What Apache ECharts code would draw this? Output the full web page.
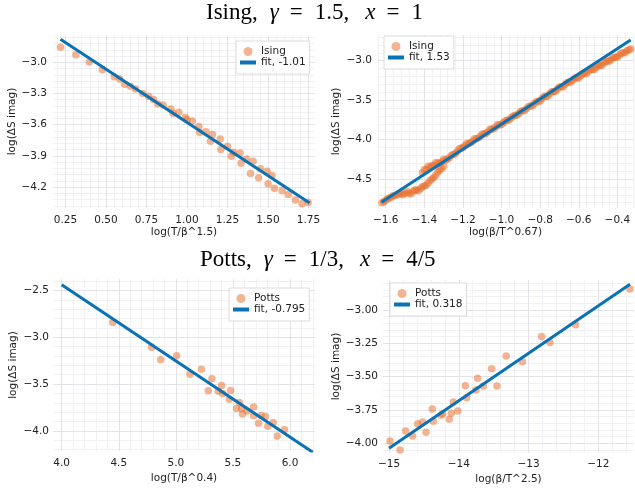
<!DOCTYPE html>
<html><head><meta charset="utf-8">
<script src="https://cdn.jsdelivr.net/npm/echarts@6/dist/echarts.min.js"></script>
<style>html,body{margin:0;padding:0;background:#fff}#c{width:635px;height:488px}</style>
</head><body><div id="c"></div>
<script>
// ---- Panel 1: Ising, log(T/β^1.5) ----
const isingTX = [0.220,0.314,0.397,0.478,0.551,0.585,0.615,0.650,0.682,0.727,0.763,0.793,0.820,0.853,0.900,0.914,0.950,0.990,1.000,1.033,1.073,1.078,1.117,1.145,1.157,1.205,1.209,1.250,1.274,1.287,1.327,1.333,1.368,1.392,1.408,1.442,1.452,1.494,1.500,1.525,1.539,1.587,1.625,1.669,1.710,1.748];
const isingTY = [-2.856,-2.928,-2.998,-3.072,-3.140,-3.160,-3.210,-3.230,-3.257,-3.300,-3.327,-3.358,-3.402,-3.410,-3.450,-3.490,-3.480,-3.530,-3.550,-3.565,-3.618,-3.675,-3.667,-3.758,-3.695,-3.738,-3.838,-3.810,-3.902,-3.865,-3.871,-3.970,-3.930,-4.069,-3.950,-4.109,-4.022,-4.047,-4.166,-4.087,-4.210,-4.234,-4.270,-4.322,-4.358,-4.348];
const fitTX = [0.219, 1.757];
const fitTY = [-2.779, -4.352];

// ---- Panel 2: Ising, log(β/T^0.67) (dense band) ----
const isingBX = [-1.620,-1.600,-1.580,-1.560,-1.540,-1.520,-1.500,-1.480,-1.460,-1.440,-1.420,-1.400,-1.380,-1.360,-1.340,-1.320,-1.300,
  -1.410,-1.390,-1.370,-1.350,-1.330,-1.310,-1.290,-1.270,-1.250,-1.230,-1.210,-1.190,-1.170,-1.150,-1.130,-1.110,-1.090,-1.070,-1.050,-1.030,-1.010,-0.990,-0.970,-0.950,-0.930,-0.910,-0.890,-0.870,-0.850,-0.830,-0.810,-0.790,-0.770,-0.750,-0.730,-0.710,-0.690,-0.670,-0.650,-0.630,-0.610,-0.590,-0.570,-0.550,-0.530,-0.510,-0.490,-0.470,-0.450,-0.430,-0.410,-0.390,-0.370,-0.350,-0.330,
  -1.610,-1.590,-1.570,-1.550,-1.530,-1.510,-1.490,-1.470,-1.450,-1.430,-1.410,-1.390,-1.370,-1.350,-1.330,-1.310,
  -1.400,-1.380,-1.360,-1.340,-1.320,-1.300,-1.280,-1.260,-1.240,-1.220,-1.200,-1.180,-1.160,-1.140,-1.120,-1.100,-1.080,-1.060,-1.040,-1.020,-1.000,-0.980,-0.960,-0.940,-0.920,-0.900,-0.880,-0.860,-0.840,-0.820,-0.800,-0.780,-0.760,-0.740,-0.720,-0.700,-0.680,-0.660,-0.640,-0.620,-0.600,-0.580,-0.560,-0.540,-0.520,-0.500,-0.480,-0.460,-0.440,-0.420,-0.400,-0.380,-0.360,-0.340];
const isingBY = [-4.80,-4.77,-4.74,-4.71,-4.70,-4.69,-4.68,-4.68,-4.66,-4.64,-4.62,-4.59,-4.55,-4.50,-4.45,-4.39,-4.34,
  -4.42,-4.38,-4.35,-4.33,-4.30,-4.28,-4.26,-4.23,-4.19,-4.15,-4.11,-4.08,-4.05,-4.02,-3.99,-3.96,-3.93,-3.90,-3.87,-3.84,-3.815,-3.785,-3.755,-3.725,-3.695,-3.665,-3.635,-3.605,-3.575,-3.545,-3.515,-3.48,-3.45,-3.42,-3.39,-3.36,-3.33,-3.30,-3.27,-3.245,-3.215,-3.19,-3.16,-3.135,-3.11,-3.085,-3.06,-3.03,-3.005,-2.98,-2.955,-2.93,-2.90,-2.875,-2.85,
  -4.79,-4.75,-4.73,-4.71,-4.68,-4.70,-4.66,-4.69,-4.64,-4.65,-4.60,-4.58,-4.52,-4.48,-4.41,-4.37,
  -4.38,-4.34,-4.33,-4.29,-4.30,-4.25,-4.25,-4.20,-4.18,-4.12,-4.10,-4.05,-4.04,-3.99,-3.98,-3.93,-3.92,-3.87,-3.86,-3.81,-3.81,-3.76,-3.75,-3.70,-3.69,-3.64,-3.63,-3.58,-3.57,-3.52,-3.51,-3.455,-3.45,-3.395,-3.39,-3.335,-3.33,-3.275,-3.27,-3.22,-3.22,-3.165,-3.165,-3.11,-3.11,-3.06,-3.06,-3.01,-3.005,-2.96,-2.955,-2.905,-2.90,-2.86];
const fitBX = [-1.622, -0.331];
const fitBY = [-4.796, -2.737];

// ---- Panel 3: Potts, log(T/β^0.4) ----
const pottsTX = [4.447,4.788,4.867,5.007,5.124,5.224,5.284,5.316,5.372,5.401,5.410,5.480,5.468,5.532,5.556,5.576,5.584,5.623,5.681,5.681,5.725,5.747,5.785,5.806,5.853,5.888,5.952];
const pottsTY = [-2.842,-3.106,-3.241,-3.198,-3.396,-3.341,-3.571,-3.442,-3.576,-3.515,-3.600,-3.568,-3.661,-3.761,-3.695,-3.762,-3.820,-3.788,-3.743,-3.838,-3.918,-3.836,-3.847,-3.950,-3.909,-4.055,-3.985];
const fitPTX = [4.0, 6.2];
const fitPTY = [-2.439, -4.228];

// ---- Panel 4: Potts, log(β/T^2.5) ----
const pottsBX = [-14.986,-14.842,-14.761,-14.661,-14.589,-14.518,-14.470,-14.379,-14.365,-14.255,-14.231,-14.136,-14.107,-14.078,-14.016,-13.906,-13.887,-13.754,-13.730,-13.649,-13.529,-13.453,-13.321,-13.090,-12.813,-12.693,-12.326,-11.547];
const pottsBY = [-3.983,-4.050,-3.908,-3.945,-3.853,-3.840,-3.918,-3.743,-3.835,-3.790,-3.778,-3.820,-3.775,-3.690,-3.758,-3.568,-3.658,-3.600,-3.513,-3.570,-3.440,-3.570,-3.345,-3.388,-3.198,-3.243,-3.110,-2.843];
const fitPBX = [-15.0, -11.546];
const fitPBY = [-4.0375, -2.807];

// ---- tick labels ----
const ticksX1 = [0.25,0.50,0.75,1.00,1.25,1.50,1.75];
const ticksY1 = [-4.2,-3.9,-3.6,-3.3,-3.0];
const ticksX2 = [-1.6,-1.4,-1.2,-1.0,-0.8,-0.6,-0.4];
const ticksY2 = [-4.5,-4.0,-3.5,-3.0];
const ticksX3 = [4.0,4.5,5.0,5.5,6.0];
const ticksY3 = [-4.0,-3.5,-3.0,-2.5];
const ticksX4 = [-15,-14,-13,-12];
const ticksY4 = [-4.00,-3.75,-3.50,-3.25,-3.00];

const legendNames = ['Ising','fit, -1.01','fit, 1.53','Potts','fit, -0.795','fit, 0.318'];

const zip = (a, b) => a.map((v, i) => [v, b[i]]);
const fmt = (v, d) => (v < -1e-9 ? '\u2212' : '') + Math.abs(v).toFixed(d);
function minorVals(min, max, step) {
  const out = [];
  const start = Math.ceil(min / step - 1e-9);
  for (let k = start; k * step <= max + 1e-9; k++) out.push(+(k * step).toFixed(6));
  return out;
}
const SANS = 'DejaVu Sans';
const LBL = '#222';
const MAJ = '#e2e2e8', MIN = '#f1f1f4';

const xAxes = [], yAxes = [];
function addAxes(g, xr, yr, tx, ty, dx, dy, mx, my, xname, yname, xm, xg, ym, yg) {
  xAxes.push({type:'value', gridIndex:g, min:xr[0], max:xr[1], z:1,
    axisLine:{show:false}, axisTick:{show:false, customValues:tx},
    axisLabel:{customValues:tx, formatter:v=>fmt(v,dx), margin:xm, color:LBL, fontSize:10.5, fontFamily:SANS},
    splitLine:{show:true, lineStyle:{color:MAJ, width:1}},
    name:xname, nameLocation:'middle', nameGap:xg, nameTextStyle:{color:LBL, fontSize:10.5, fontFamily:SANS}});
  xAxes.push({type:'value', gridIndex:g, min:xr[0], max:xr[1], z:0,
    axisLine:{show:false}, axisTick:{show:false, customValues:minorVals(xr[0],xr[1],mx)},
    axisLabel:{show:false}, splitLine:{show:true, lineStyle:{color:MIN, width:1}}});
  yAxes.push({type:'value', gridIndex:g, min:yr[0], max:yr[1], z:1,
    axisLine:{show:false}, axisTick:{show:false, customValues:ty},
    axisLabel:{customValues:ty, formatter:v=>fmt(v,dy), margin:ym, color:LBL, fontSize:10.5, fontFamily:SANS},
    splitLine:{show:true, lineStyle:{color:MAJ, width:1}},
    name:yname, nameLocation:'middle', nameGap:yg, nameTextStyle:{color:LBL, fontSize:10.5, fontFamily:SANS}});
  yAxes.push({type:'value', gridIndex:g, min:yr[0], max:yr[1], z:0,
    axisLine:{show:false}, axisTick:{show:false, customValues:minorVals(yr[0],yr[1],my)},
    axisLabel:{show:false}, splitLine:{show:true, lineStyle:{color:MIN, width:1}}});
}
addAxes(0, [0.173,1.79], [-4.40,-2.738], ticksX1, ticksY1, 2, 1, 0.05, 0.06, 'log(T/β^1.5)', 'log(ΔS imag)', 7, 19, 6, 34);
addAxes(1, [-1.64,-0.319], [-4.868,-2.674], ticksX2, ticksY2, 1, 1, 0.04, 0.1, 'log(β/T^0.67)', 'log(ΔS imag)', 7, 19, 6, 36);
addAxes(2, [3.924,6.219], [-4.214,-2.378], ticksX3, ticksY3, 1, 1, 0.1, 0.1, 'log(T/β^0.4)', 'log(ΔS imag)', 7, 22, 4, 34);
addAxes(3, [-15.086,-11.489], [-4.073,-2.775], ticksX4, ticksY4, 0, 2, 0.2, 0.05, 'log(β/T^2.5)', 'log(ΔS imag)', 6, 21, 5, 41);

const DOT = 'rgba(232,112,45,0.65)';
const BLUE = '#0a72b5';
function scat(name, g, x, y) {
  return {type:'scatter', name, xAxisIndex:2*g, yAxisIndex:2*g, data:zip(x,y), symbol:'circle', symbolSize:7.5,
    itemStyle:{color:DOT}, z:3, silent:true};
}
function fit(name, g, x, y) {
  return {type:'line', name, xAxisIndex:2*g, yAxisIndex:2*g, data:zip(x,y), symbol:'none', showSymbol:false,
    lineStyle:{color:BLUE, width:3}, itemStyle:{color:BLUE}, z:4, silent:true};
}
const series = [
  scat(legendNames[0], 0, isingTX, isingTY), fit(legendNames[1], 0, fitTX, fitTY),
  scat(legendNames[0], 1, isingBX, isingBY), fit(legendNames[2], 1, fitBX, fitBY),
  scat(legendNames[3], 2, pottsTX, pottsTY), fit(legendNames[4], 2, fitPTX, fitPTY),
  scat(legendNames[3], 3, pottsBX, pottsBY), fit(legendNames[5], 3, fitPBX, fitPBY)
];

function leg(names, left, top) {
  return {data:[{name:names[0]}, {name:names[1], itemStyle:{opacity:0}, lineStyle:{width:4}}],
    left, top, orient:'vertical', itemWidth:16, itemHeight:9, itemGap:0,
    padding:[5,4,6,2], backgroundColor:'#fff', borderColor:'#dcdcdc', borderWidth:1, borderRadius:0,
    selectedMode:false, textStyle:{fontSize:10.5, color:LBL, fontFamily:SANS}};
}

const base = {fontFamily:'Liberation Serif', fontSize:23, color:'#000', fontWeight:'normal'};
const rich = {
  a:Object.assign({}, base, {padding:[0,12,0,0]}),
  g:Object.assign({}, base, {fontStyle:'italic', padding:[0,11,0,0]}),
  e:Object.assign({}, base, {padding:[0,12,0,0]}),
  b:Object.assign({}, base, {padding:[0,16,0,0]}),
  c:Object.assign({}, base)
};

const chart = echarts.init(document.getElementById('c'), null, {renderer:'canvas'});
chart.setOption({
  animation:false,
  backgroundColor:'#fff',
  title:[
    {text:'{a|Ising,}{g|γ}{e|=}{b|1.5,}{g|x}{e|=}{c|1}', left:206, top:1, padding:0, textStyle:{fontWeight:'normal', rich}},
    {text:'{a|Potts,}{g|γ}{e|=}{b|1/3,}{g|x}{e|=}{c|4/5}', left:200, top:248, padding:0, textStyle:{fontWeight:'normal', rich}}
  ],
  grid:[
    {left:53, top:35, width:262, height:173},
    {left:378, top:35, width:255, height:173},
    {left:53, top:279, width:262, height:172},
    {left:383, top:280, width:251, height:173}
  ],
  xAxis:xAxes, yAxis:yAxes,
  legend:[
    leg([legendNames[0], legendNames[1]], 236, 41),
    leg([legendNames[0], legendNames[2]], 384, 36),
    leg([legendNames[3], legendNames[4]], 229, 288),
    leg([legendNames[3], legendNames[5]], 390, 283)
  ],
  series
});
</script></body></html>
